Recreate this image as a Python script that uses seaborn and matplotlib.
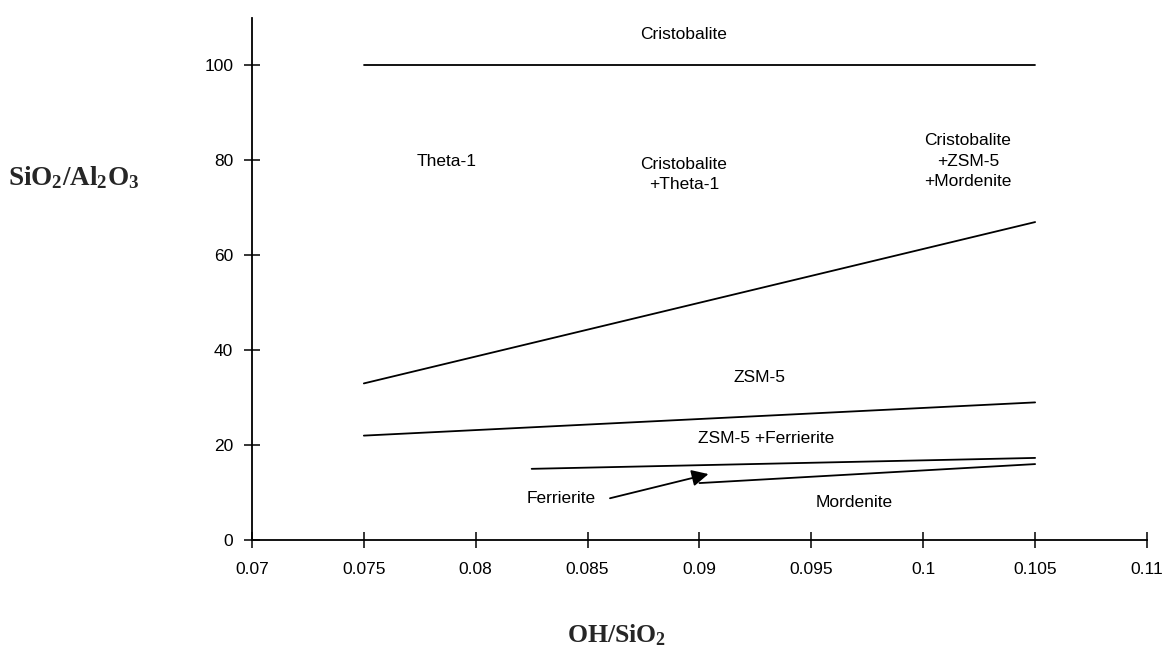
import matplotlib
matplotlib.use("Agg")
import matplotlib.pyplot as plt
import seaborn as sns
import pandas as pd

sns.set_theme(style="white")
plt.rcParams["font.family"] = ["Liberation Sans", "DejaVu Sans"]
plt.rcParams["mathtext.fontset"] = "custom"
plt.rcParams["mathtext.rm"] = "Liberation Serif:bold"
plt.rcParams["mathtext.bf"] = "Liberation Serif:bold"
plt.rcParams["mathtext.it"] = "Liberation Serif:bold"

# Phase boundaries: OH/SiO2 vs SiO2/Al2O3 end points
cristobalite_x = [0.075, 0.105]
cristobalite_y = [100, 100]
theta_zsm_x = [0.075, 0.105]
theta_zsm_y = [33, 67]
zsm_ferr_x = [0.075, 0.105]
zsm_ferr_y = [22, 29]
ferr_upper_x = [0.0825, 0.105]
ferr_upper_y = [15, 17.3]
mordenite_x = [0.09, 0.105]
mordenite_y = [12, 16]

x_ticks = [0.07, 0.075, 0.08, 0.085, 0.09, 0.095, 0.1, 0.105, 0.11]
x_tick_labels = ["0.07", "0.075", "0.08", "0.085", "0.09", "0.095", "0.1", "0.105", "0.11"]
y_ticks = [0, 20, 40, 60, 80, 100]

# Region labels: (text, x, y)
region_labels = [
    ("Cristobalite", 0.0893, 106.5),
    ("Theta-1", 0.0787, 79.8),
    ("Cristobalite\n+Theta-1", 0.0893, 77.0),
    ("Cristobalite\n+ZSM-5\n+Mordenite", 0.1020, 79.8),
    ("ZSM-5", 0.0927, 34.2),
    ("ZSM-5 +Ferrierite", 0.0930, 21.4),
    ("Mordenite", 0.0969, 8.0),
]
ferrierite_label = ("Ferrierite", 0.0838, 8.8)
ferrierite_arrow_tip = (0.0904, 13.9)

boundaries = pd.concat([
    pd.DataFrame({"x": xs, "y": ys, "boundary": name})
    for name, xs, ys in [
        ("cristobalite", cristobalite_x, cristobalite_y),
        ("theta_zsm", theta_zsm_x, theta_zsm_y),
        ("zsm_ferr", zsm_ferr_x, zsm_ferr_y),
        ("ferr_upper", ferr_upper_x, ferr_upper_y),
        ("mordenite", mordenite_x, mordenite_y),
    ]
], ignore_index=True)

fig = plt.figure(figsize=(11.66, 6.5), dpi=100)
ax = fig.add_axes([0.2161, 0.1692, 0.9837 - 0.2161, 0.9723 - 0.1692])

sns.lineplot(data=boundaries, x="x", y="y", units="boundary", estimator=None,
             color="black", linewidth=1.3, ax=ax, legend=False)

ax.set_xlim(0.07, 0.11)
ax.set_ylim(0, 110)
ax.set_xticks(x_ticks)
ax.set_xticklabels(x_tick_labels)
ax.set_yticks(y_ticks)
ax.set_xlabel("")
ax.set_ylabel("")

for side in ("top", "right"):
    ax.spines[side].set_visible(False)
for side in ("left", "bottom"):
    ax.spines[side].set_color("black")
    ax.spines[side].set_linewidth(1.3)

ax.tick_params(axis="both", direction="inout", length=11, width=1.1,
               colors="black", labelsize=12.5, left=True, bottom=True)
ax.tick_params(axis="x", pad=10)
ax.tick_params(axis="y", pad=8)

for text, x, y in region_labels:
    ax.text(x, y, text, ha="center", va="center", fontsize=12.5,
            color="black", linespacing=1.45)

ax.annotate("", xy=ferrierite_arrow_tip, xytext=(0.0860, 8.8),
            arrowprops=dict(arrowstyle="-|>", color="black", lw=1.3,
                            mutation_scale=25, shrinkA=0, shrinkB=0))
ax.text(ferrierite_label[1], ferrierite_label[2], ferrierite_label[0],
        ha="center", va="center", fontsize=12.5, color="black")

fig.text(0.0635, 0.727, r"SiO$_2$/Al$_2$O$_3$", ha="center", va="center",
         fontsize=19.5, fontfamily="Liberation Serif", fontweight="bold")
fig.text(0.529, 0.022, r"OH/SiO$_2$", ha="center", va="center",
         fontsize=18.5, fontfamily="Liberation Serif", fontweight="bold")

fig.savefig("out.png", dpi=100, facecolor="white")
